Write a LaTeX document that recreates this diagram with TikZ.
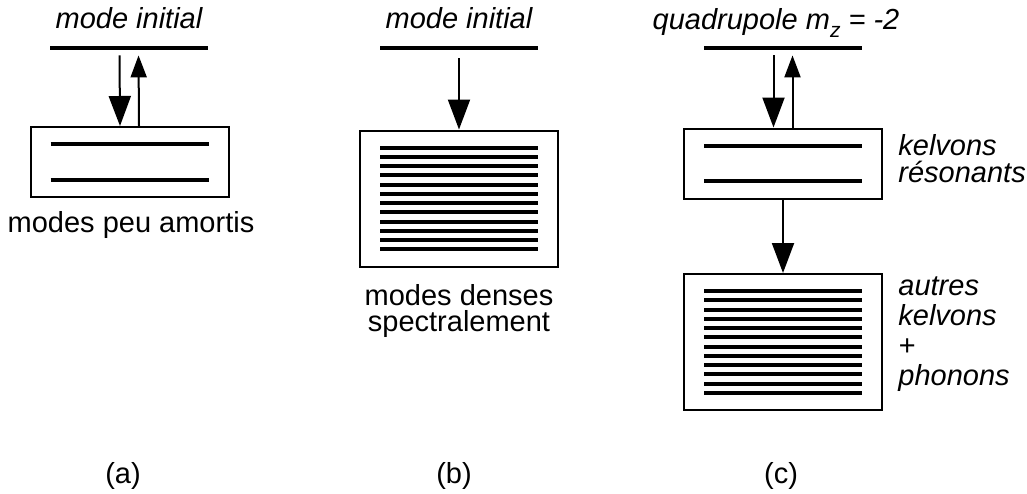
\documentclass[tikz,border=0pt]{standalone}
\usepackage{fontspec}
\setmainfont{Liberation Sans}
\usetikzlibrary{positioning, arrows.meta}

\begin{document}
\begin{tikzpicture}[
  x=0.5pt, y=-0.5pt,
  font=\fontsize{14.5pt}{13pt}\selectfont,
  box/.style={draw, line width=1pt, minimum width=99pt, inner sep=0pt},
  level/.style={fill=black, minimum width=79pt, minimum height=2pt, inner sep=0pt},
  mode/.style={line width=2pt},
  arrbig/.style={-{Triangle[length=15pt, width=11pt]}, line width=1pt},
  arrsmall/.style={-{Triangle[length=11pt, width=8pt]}, line width=1pt},
  lab/.style={inner sep=0pt, font=\fontsize{14.5pt}{13pt}\selectfont\itshape}
]
\useasboundingbox (0,0) rectangle (1027,493);

% (a)
\node[lab, anchor=base] (initA) at (129,28) {mode initial};
\node[level] (levA) at (129,48) {};
\node[box, minimum height=35pt] (boxA) at (129.5,162) {};
\foreach \dy in {-18,18}
  \draw[mode] ([shift={(-79,\dy)}]boxA.center) -- ([shift={(79,\dy)}]boxA.center);
\draw[arrbig, shorten <=2.5pt] ([xshift=-4.75pt]levA.south) -- ([xshift=-4.75pt]boxA.north);
\draw[arrsmall, shorten >=2.5pt] ([xshift=4.75pt]boxA.north) -- ([xshift=4.75pt]levA.south);
\node[anchor=base, inner sep=0pt] (amortis) at (131,232) {modes peu amortis};

% (b)
\node[lab, anchor=base] (initB) at (459,28) {mode initial};
\node[level] (levB) at (459,48) {};
\node[box, minimum height=68pt] (boxB) at (459,198.5) {};
\foreach \i in {0,...,11}
  \draw[mode] ([shift={(-79,{(\i-5.5)*9.27})}]boxB.center) -- ([shift={(79,{(\i-5.5)*9.27})}]boxB.center);
\draw[arrbig, shorten <=4pt] (levB.south) -- (boxB.north);
\node[anchor=base, align=center, inner sep=0pt, font=\fontsize{14.5pt}{13pt}\selectfont]
  (denses) at (459,331) {modes denses\\spectralement};

% (c)
\node[lab, anchor=base] (quad) at (776,29)
  {quadrupole m\raisebox{-4pt}{\fontsize{10.5pt}{10.5pt}\selectfont z} = -2};
\node[level] (levC) at (783,48) {};
\node[box, minimum height=35pt] (boxC) at (783,163.5) {};
\foreach \dy in {-17.5,17.5}
  \draw[mode] ([shift={(-79,\dy)}]boxC.center) -- ([shift={(79,\dy)}]boxC.center);
\draw[arrbig, shorten <=2.5pt] ([xshift=-4.75pt]levC.south) -- ([xshift=-4.75pt]boxC.north);
\draw[arrsmall, shorten >=2.5pt] ([xshift=4.75pt]boxC.north) -- ([xshift=4.75pt]levC.south);
\node[box, minimum height=68pt] (boxD) at (783,342) {};
\foreach \i in {0,...,11}
  \draw[mode] ([shift={(-79,{(\i-5.5)*9.27})}]boxD.center) -- ([shift={(79,{(\i-5.5)*9.27})}]boxD.center);
\draw[arrbig] (boxC.south) -- (boxD.north);
\node[lab, anchor=base west, align=left, font=\fontsize{14.5pt}{13.5pt}\selectfont\itshape]
  (reso) at (898,182) {kelvons\\résonants};
\node[lab, anchor=base west, align=left, font=\fontsize{14.5pt}{15pt}\selectfont\itshape]
  (autres) at (898,385) {autres\\kelvons\\+\\phonons};

% panel labels
\node[anchor=base, inner sep=0pt] (pa) at (123,483) {(a)};
\node[anchor=base, inner sep=0pt] (pb) at (454,483) {(b)};
\node[anchor=base, inner sep=0pt] (pc) at (781,483) {(c)};
\end{tikzpicture}
\end{document}
